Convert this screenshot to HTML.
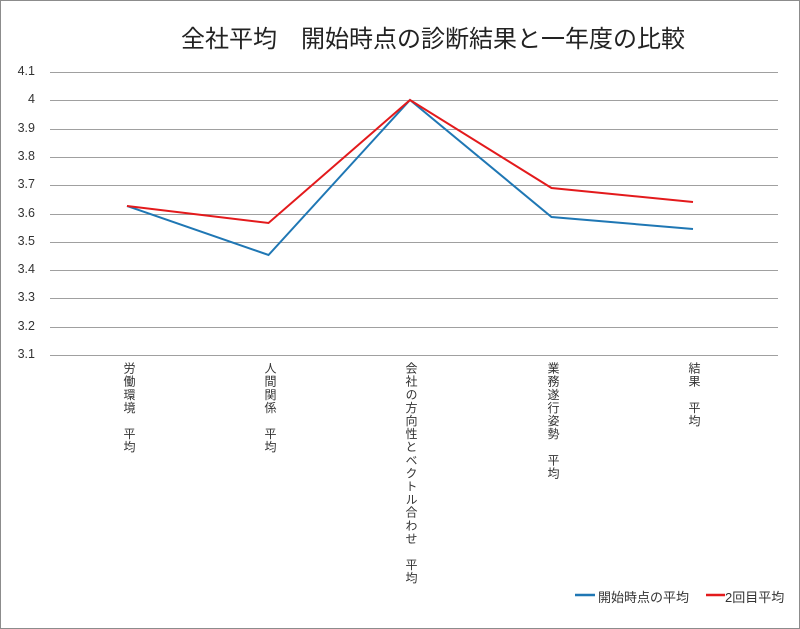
<!DOCTYPE html>
<html><head><meta charset="utf-8"><style>
body{margin:0;background:#fff;}
#c{position:relative;width:798px;height:627px;border:1px solid #8c8c8c;background:#fff;font-family:"Liberation Sans","Noto Sans CJK JP",sans-serif;color:#404040;overflow:hidden}
.t{position:absolute;top:18px;left:180px;white-space:nowrap;font-size:24px;color:#222}
.y{position:absolute;left:0;width:34px;text-align:right;font-size:12.5px;color:#333}
.x{position:absolute;top:361px;writing-mode:vertical-rl;font-size:12px;line-height:14px;color:#333;letter-spacing:1.1px}
.lg{position:absolute;top:586px;font-size:13px;color:#333}
</style></head><body><div id="c">
<div class="t">全社平均　開始時点の診断結果と一年度の比較</div>
<svg width="798" height="627" style="position:absolute;left:0;top:0">
<g stroke="#a0a0a0" stroke-width="1">
<line x1="49" x2="777" y1="71.5" y2="71.5"/><line x1="49" x2="777" y1="99.5" y2="99.5"/><line x1="49" x2="777" y1="128.5" y2="128.5"/><line x1="49" x2="777" y1="156.5" y2="156.5"/><line x1="49" x2="777" y1="184.5" y2="184.5"/><line x1="49" x2="777" y1="213.5" y2="213.5"/><line x1="49" x2="777" y1="241.5" y2="241.5"/><line x1="49" x2="777" y1="269.5" y2="269.5"/><line x1="49" x2="777" y1="297.5" y2="297.5"/><line x1="49" x2="777" y1="326.5" y2="326.5"/><line x1="49" x2="777" y1="354.5" y2="354.5"/>
</g>
<polyline fill="none" stroke="#1f77b4" stroke-width="2" points="126,205 267.5,254 409,99 550.5,216 692,228"/>
<polyline fill="none" stroke="#e31a1c" stroke-width="2" points="126,205 267.5,222 409,99 550.5,187 692,201"/>
<line x1="574" x2="594" y1="594" y2="594" stroke="#1f77b4" stroke-width="2.5"/>
<line x1="705" x2="724" y1="594" y2="594" stroke="#e31a1c" stroke-width="2.5"/>
</svg>
<div class="y" style="top:63px">4.1</div><div class="y" style="top:91px">4</div><div class="y" style="top:120px">3.9</div><div class="y" style="top:148px">3.8</div><div class="y" style="top:176px">3.7</div><div class="y" style="top:205px">3.6</div><div class="y" style="top:233px">3.5</div><div class="y" style="top:261px">3.4</div><div class="y" style="top:289px">3.3</div><div class="y" style="top:318px">3.2</div><div class="y" style="top:346px">3.1</div>
<div class="x" style="left:121px">労働環境　平均</div>
<div class="x" style="left:262px">人間関係　平均</div>
<div class="x" style="left:403px">会社の方向性とベクトル合わせ　平均</div>
<div class="x" style="left:545px">業務遂行姿勢　平均</div>
<div class="x" style="left:686px">結果　平均</div>
<div class="lg" style="left:597px">開始時点の平均</div>
<div class="lg" style="left:724px">2回目平均</div>
</div></body></html>
